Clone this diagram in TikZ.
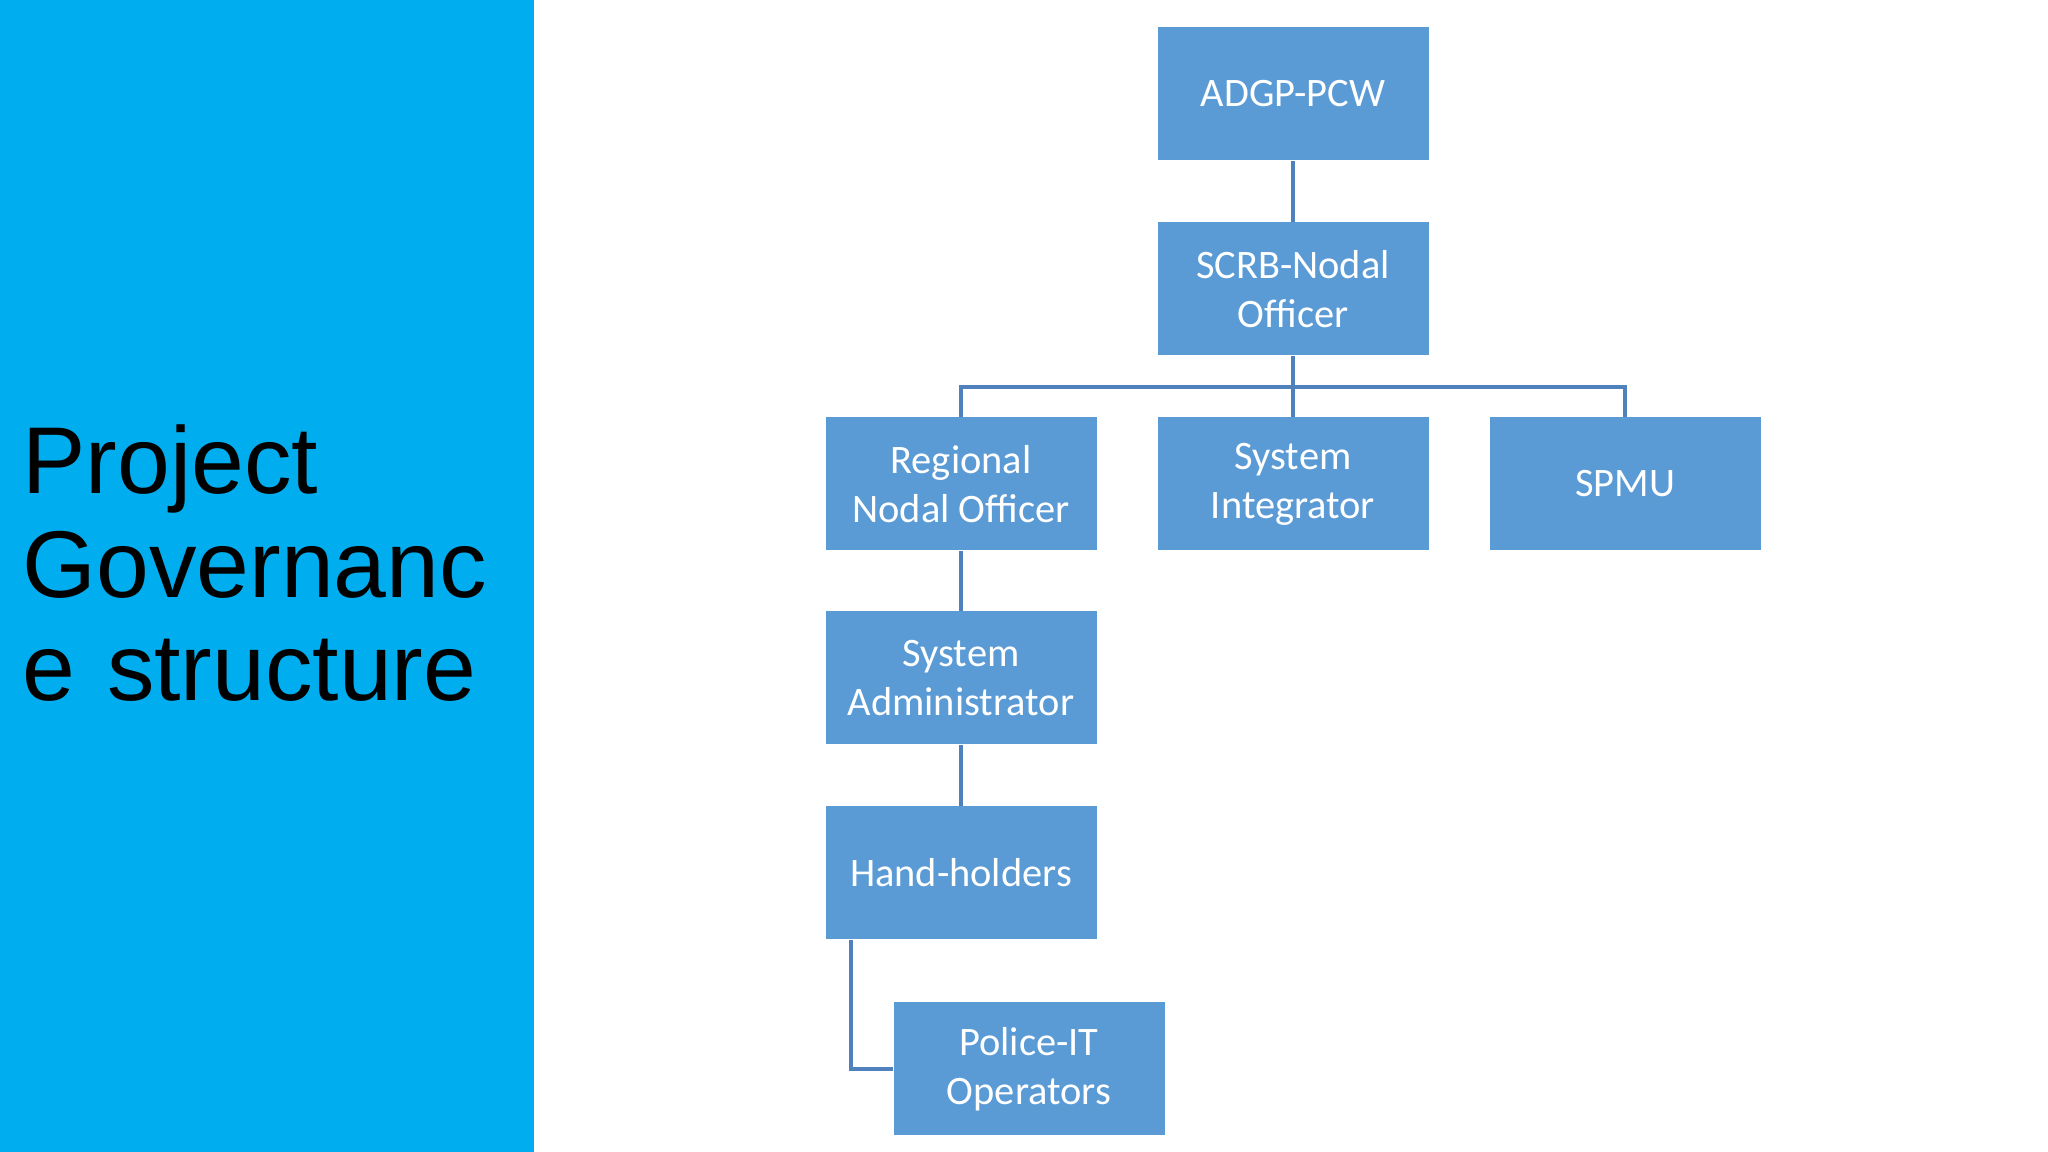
\documentclass[tikz,border=0pt]{standalone}
\usepackage{fontspec}
\setmainfont{Carlito}
\newfontfamily\titlefont{Liberation Sans}
\usetikzlibrary{positioning}
\definecolor{panelblue}{HTML}{00AEEF}
\definecolor{boxblue}{HTML}{5B9BD5}
\definecolor{linkblue}{HTML}{4F81BD}

\begin{document}
\begin{tikzpicture}[x=1cm,y=1cm]
\tikzstyle{every node}=[inner sep=0pt]
\tikzstyle{unit}=[draw=none, fill=boxblue, text=white,
                  minimum width=2.71cm, minimum height=1.33cm,
                  align=center, font=\fontsize{11.5}{14}\selectfont]
\tikzstyle{link}=[draw=linkblue, line width=0.9pt]

\useasboundingbox (0,0) rectangle (20.48,11.52);
\fill[white] (0,0) rectangle (20.48,11.52);
\fill[panelblue] (0,0) rectangle (5.34,11.52);
\node[anchor=north west, align=left, text width=5cm,
      font=\titlefont\fontsize{27}{29.5}\selectfont] (title) at (0.22,7.28)
      {Project Governanc e structure};

\node[unit] (adgp) at (12.93,10.58) {ADGP-PCW};
\node[unit] (scrb) at (12.93,8.63) {SCRB-Nodal\\Officer};
\node[unit] (rno)  at (9.61,6.68) {Regional\\Nodal Officer};
\node[unit] (si)   at (12.93,6.68) {System\\Integrator};
\node[unit] (spmu) at (16.25,6.68) {SPMU};
\node[unit] (sadm) at (9.61,4.74) {System\\Administrator};
\node[unit] (hand) at (9.61,2.79) {Hand-holders};
\node[unit] (pit)  at (10.29,0.83) {Police-IT\\Operators};

\coordinate (bus) at (12.93,7.65);

\draw[link] (adgp) -- (scrb);
\draw[link] (scrb) -- (bus);
\draw[link] (rno.north) |- (bus) -| (spmu.north);
\draw[link] (bus) -- (si);
\draw[link] (rno) -- (sadm);
\draw[link] (sadm) -- (hand);
\draw[link] ([xshift=-1.1cm]hand.south) |- (pit.west);

\end{tikzpicture}
\end{document}
